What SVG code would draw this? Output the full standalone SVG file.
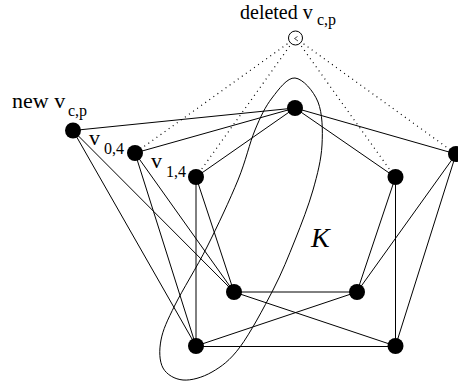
<svg xmlns="http://www.w3.org/2000/svg" width="458" height="385" viewBox="0 0 458 385">
<style>
  .e { stroke: #000; stroke-width: 1; fill: none; }
  .d { stroke: #000; stroke-width: 1.2; fill: none; stroke-dasharray: 1 4; }
  .n { fill: #000; }
  .t { font-family: "Liberation Serif", "Times New Roman", serif; fill: #000; }
  .big { font-size: 22px; }
  .sub { font-size: 16px; }
</style>
<rect width="458" height="385" fill="#fff"/>
<g id="connectors">
  <line class="d" x1="295.5" y1="38" x2="135" y2="153"/>
  <line class="d" x1="295.5" y1="38" x2="196" y2="177"/>
  <line class="d" x1="295.5" y1="38" x2="395" y2="177"/>
  <line class="d" x1="295.5" y1="38" x2="456" y2="154"/>
  <line class="e" x1="73" y1="130.5" x2="295" y2="108"/>
  <line class="e" x1="73" y1="130.5" x2="234" y2="292"/>
  <line class="e" x1="73" y1="130.5" x2="196" y2="346"/>
  <line class="e" x1="135" y1="153" x2="295" y2="108"/>
  <line class="e" x1="135" y1="153" x2="234" y2="292"/>
  <line class="e" x1="135" y1="153" x2="196" y2="346"/>
  <line class="e" x1="196" y1="177" x2="295" y2="108"/>
  <line class="e" x1="196" y1="177" x2="196" y2="346"/>
  <line class="e" x1="196" y1="177" x2="234" y2="292"/>
  <line class="e" x1="295" y1="108" x2="456" y2="154"/>
  <line class="e" x1="295" y1="108" x2="395" y2="177"/>
  <line class="e" x1="395.5" y1="177" x2="357" y2="292"/>
  <line class="e" x1="395.5" y1="177" x2="395.5" y2="346"/>
  <line class="e" x1="456" y1="154" x2="357" y2="292"/>
  <line class="e" x1="456" y1="154" x2="395.5" y2="346"/>
  <line class="e" x1="234" y1="292" x2="357" y2="292"/>
  <line class="e" x1="234" y1="292" x2="395.5" y2="346"/>
  <line class="e" x1="357" y1="292" x2="196" y2="346"/>
  <line class="e" x1="196" y1="346.5" x2="395.5" y2="346.5"/>
</g>
<g id="K">
  <path class="e" d="M295,78 C302.7,78.7 313.5,90.8 318,102 C322.5,113.2 322.8,130.3 322,145 C321.2,159.7 317.5,174.2 313,190 C308.5,205.8 301.7,223.3 295,240 C288.3,256.7 282.2,272.2 273,290 C263.8,307.8 250.2,333.3 240,347 C229.8,360.7 221.5,366.5 212,372 C202.5,377.5 191.2,380.7 183,380 C174.8,379.3 166.7,374.7 163,368 C159.3,361.3 159,350.5 161,340 C163,329.5 167.3,320.5 175,305 C182.7,289.5 196.5,267.8 207,247 C217.5,226.2 230,199.5 238,180 C246,160.5 249.3,143.7 255,130 C260.7,116.3 265.3,106.7 272,98 C278.7,89.3 287.3,77.3 295,78 Z"/>
  <text class="t" x="311" y="247" font-size="28" font-style="italic">K</text>
</g>
<g id="deleted">
  <circle cx="295.5" cy="38" r="7" fill="#fff" stroke="#000" stroke-width="1"/>
  <path d="M297.5,36.5 L294.5,38.5 L298,41" fill="none" stroke="#000" stroke-width="0.7"/>
  <text class="t" font-size="20" x="240" y="18.5">deleted v<tspan class="sub" x="317" y="25">c,p</tspan></text>
</g>
<g id="new">
  <circle class="n" cx="73" cy="130.5" r="8"/>
  <text class="t big" x="12" y="108">new v<tspan class="sub" x="68" y="116">c,p</tspan></text>
</g>
<g id="v04">
  <circle class="n" cx="135" cy="153" r="8"/>
  <text class="t big" x="89" y="145">v<tspan class="sub" x="104" y="153.5">0,4</tspan></text>
</g>
<g id="v14">
  <circle class="n" cx="196" cy="177" r="8"/>
  <text class="t big" x="151" y="168">v<tspan class="sub" x="166" y="177">1,4</tspan></text>
</g>
<g id="top"><circle class="n" cx="295" cy="108" r="8"/></g>
<g id="rtop"><circle class="n" cx="456" cy="154" r="8"/></g>
<g id="rin"><circle class="n" cx="395.5" cy="177" r="8"/></g>
<g id="lin"><circle class="n" cx="234" cy="292" r="8"/></g>
<g id="rlow"><circle class="n" cx="357" cy="292" r="8"/></g>
<g id="bl"><circle class="n" cx="196" cy="346" r="8"/></g>
<g id="br"><circle class="n" cx="395.5" cy="346" r="8"/></g>
</svg>
